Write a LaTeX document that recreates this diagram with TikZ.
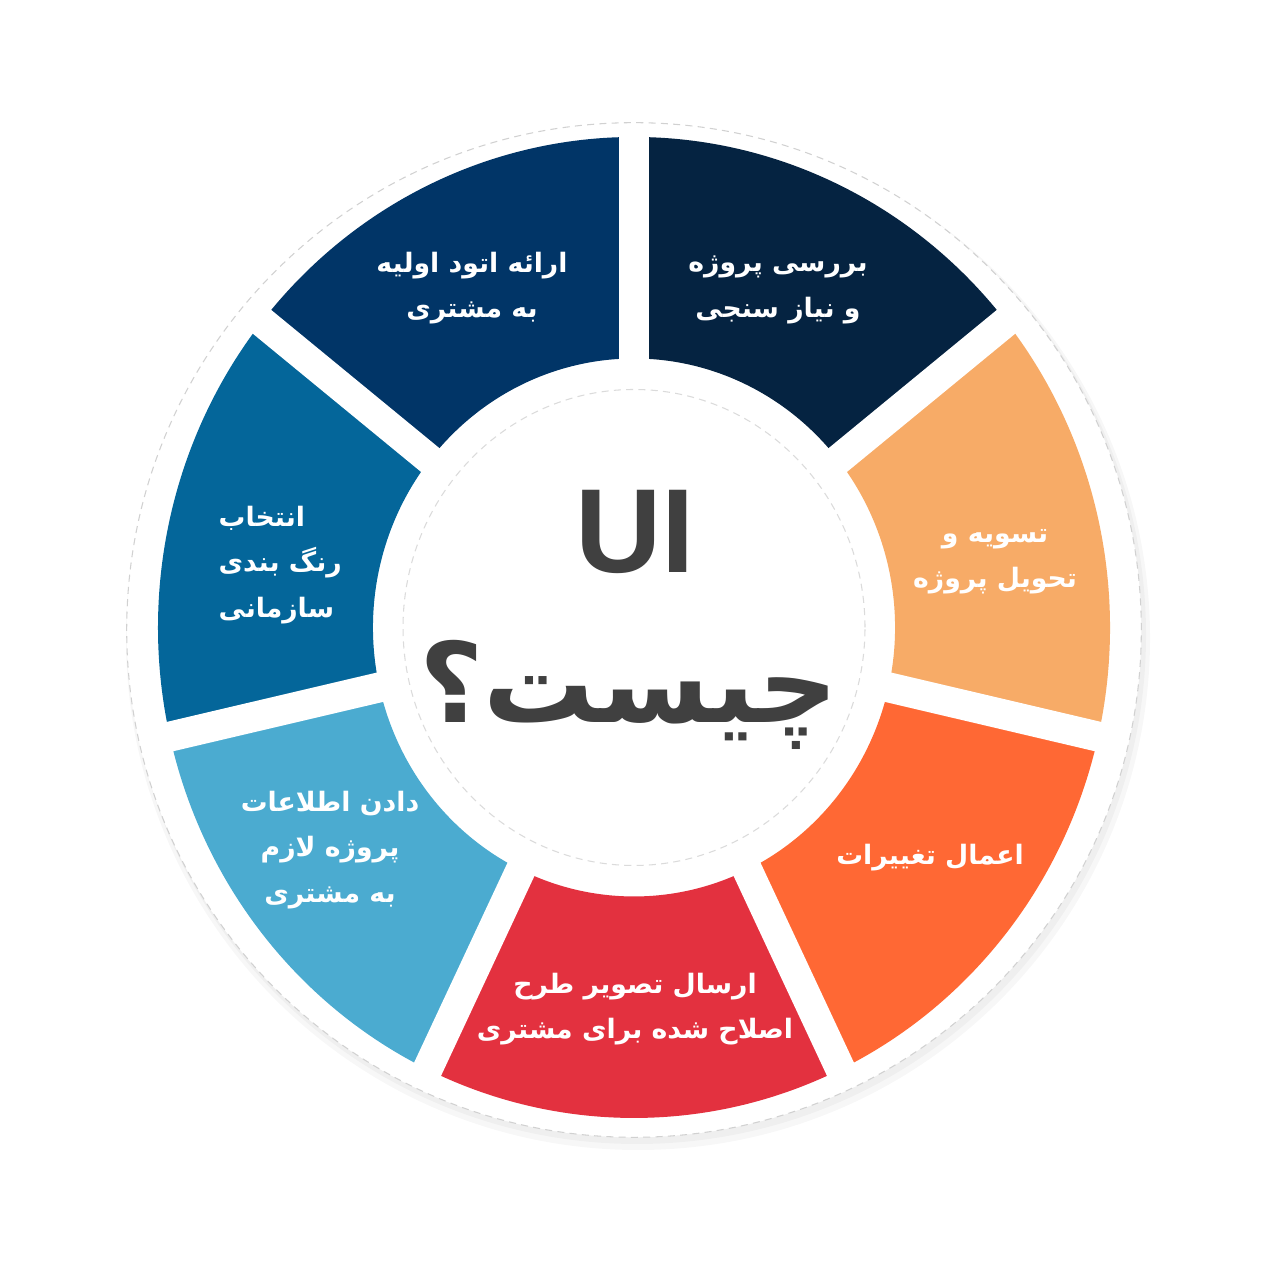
\documentclass[tikz,border=0pt]{standalone}
\usepackage{fontspec}
\setmainfont{DejaVu Sans}
\newfontfamily\fa[Script=Arabic]{DejaVu Sans}
\newfontfamily\lat{Liberation Sans}
\TeXXeTstate=1
\newcommand{\rl}[1]{\beginR#1\endR}
\definecolor{cA}{HTML}{052341}
\definecolor{cB}{HTML}{013567}
\definecolor{cC}{HTML}{04669A}
\definecolor{cD}{HTML}{4BABD0}
\definecolor{cE}{HTML}{E3313F}
\definecolor{cF}{HTML}{FF6834}
\definecolor{cG}{HTML}{F7AB67}
\definecolor{ink}{HTML}{404040}
\tikzset{
  lbl/.style={text=white, font=\fa\bfseries\fontsize{7.6}{12.9}\selectfont, align=center, inner sep=0pt},
}
\newcommand{\sect}[3]{% color, a1, a2
  \fill[#1] (#2:269) -- (#2:490.5) arc[start angle=#2, end angle=#3, radius=490.5] -- (#3:269) arc[start angle=#3, end angle=#2, radius=269] -- cycle;}
\begin{document}
\begin{tikzpicture}[x=0.01cm,y=0.01cm]
\useasboundingbox (0,0) rectangle (1280,1280);
\fill[white] (0,0) rectangle (1280,1280);
% outer disk with faint shadow
\fill[black, opacity=0.03] (638,642) circle (512);
\fill[black, opacity=0.03] (637,645) circle (509);
\node[circle, minimum size=10.14cm, inner sep=0pt, fill=white, draw=black!18, dash pattern=on 2pt off 1.5pt, line width=0.3pt] (disk) at (634,650) {};
\begin{scope}[shift={(634,652.5)}, xscale=0.9705]
  \sect{cA}{38.571}{90}
  \sect{cB}{90}{141.429}
  \sect{cC}{141.429}{192.857}
  \sect{cD}{192.857}{244.286}
  \sect{cE}{244.286}{295.714}
  \sect{cF}{295.714}{347.143}
  \sect{cG}{347.143}{398.571}
  \foreach \a in {90,38.571,-12.857,-64.286,-115.714,-167.143,141.429}
    \draw[white, line width=0.3cm] (\a:240) -- (\a:496);
  \fill[white] (0,0) circle (238);
  \draw[black!14, dash pattern=on 2pt off 1.5pt, line width=0.3pt] (0,0) circle (238);
\end{scope}
% segment labels
\node[lbl] (t1) at (778,990) {\rl{بررسی پروژه}\\\rl{و نیاز سنجی}};
\node[lbl] (t2) at (472,992) {\rl{ارائه اتود اولیه}\\\rl{به مشتری}};
\node[lbl, align=left, anchor=west] (t3) at (218,715) {\rl{انتخاب}\\\rl{رنگ بندی}\\\rl{سازمانی}};
\node[lbl] (t4) at (995,718) {\rl{تسویه و}\\\rl{تحویل پروژه}};
\node[lbl] (t5) at (930,422) {\rl{اعمال تغییرات}};
\node[lbl] (t6) at (635,271) {\rl{ارسال تصویر طرح}\\\rl{اصلاح شده برای مشتری}};
\node[lbl] (t7) at (330,430) {\rl{دادن اطلاعات}\\\rl{پروژه لازم}\\\rl{به مشتری}};
% centre
\node[text=ink, font=\lat\bfseries\fontsize{34}{40}\selectfont, anchor=base, inner sep=0pt] (ui) at (635,707) {UI};
\node[text=ink, font=\fa\bfseries\fontsize{31.5}{36}\selectfont, inner sep=0pt] (what) at (629,585) {\rl{چیست؟}};
\end{tikzpicture}
\end{document}
